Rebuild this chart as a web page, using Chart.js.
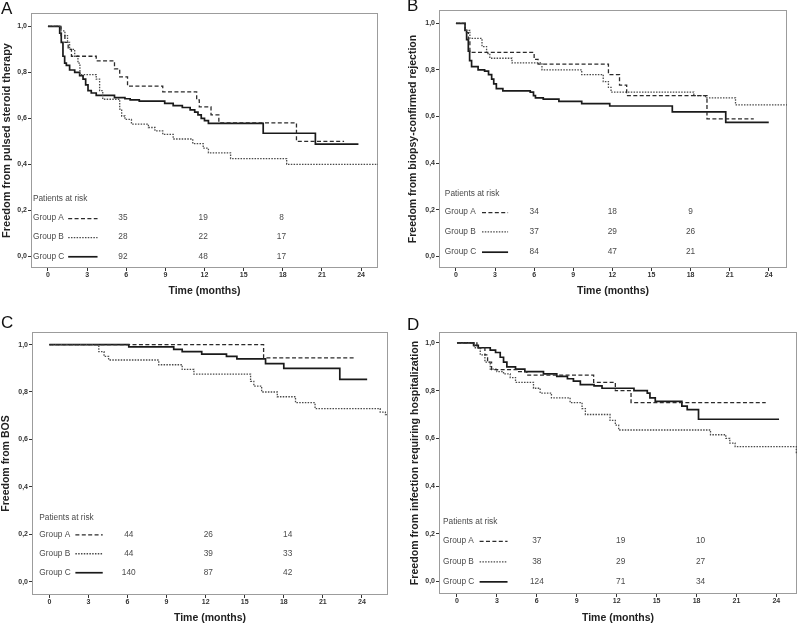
<!DOCTYPE html>
<html>
<head>
<meta charset="utf-8">
<script src="https://cdn.jsdelivr.net/npm/chart.js@4.4.1/dist/chart.umd.min.js"></script>
<style>
  html, body { margin: 0; padding: 0; background: #fff; }
  #wrap { position: relative; width: 800px; height: 625px; overflow: hidden; }
  .panel { position: absolute; }
  .letter { position: absolute; font: 17px "Liberation Sans", Arial, sans-serif; color: #111; line-height: 1; }
</style>
</head>
<body>
<div id="wrap">
  <div class="panel" style="left:0;top:0;width:400px;height:310px"><canvas id="chartA"></canvas></div>
  <div class="panel" style="left:400px;top:0;width:400px;height:310px"><canvas id="chartB"></canvas></div>
  <div class="panel" style="left:0;top:310px;width:400px;height:315px"><canvas id="chartC"></canvas></div>
  <div class="panel" style="left:400px;top:310px;width:400px;height:315px"><canvas id="chartD"></canvas></div>
  <div class="letter" style="left:1px;top:0px">A</div>
  <div class="letter" style="left:407px;top:-3px">B</div>
  <div class="letter" style="left:1px;top:314px">C</div>
  <div class="letter" style="left:407px;top:316px">D</div>
</div>
<script>
const groups = ['Group A', 'Group B', 'Group C'];
const riskHeader = 'Patients at risk';
const xTitle = 'Time (months)';
const xTicks = [0, 3, 6, 9, 12, 15, 18, 21, 24];
const yTicks = [0, 0.2, 0.4, 0.6, 0.8, 1.0];

// A - pulsed steroid therapy
const steroidTimeA = [0, 1.0, 1.3, 1.55, 1.8, 3.7, 5.1, 5.5, 6.1, 8.8, 11.4, 11.6, 12.5, 13.1, 19.05, 22.7];
const steroidSurvA = [1, 0.96, 0.93, 0.90, 0.87, 0.85, 0.815, 0.78, 0.74, 0.715, 0.68, 0.65, 0.615, 0.58, 0.50, 0.50];
const steroidTimeB = [0, 1.0, 1.3, 1.5, 1.66, 2.05, 2.3, 2.45, 3.7, 3.96, 4.2, 5.5, 5.65, 5.9, 6.4, 7.7, 8.2, 8.8, 9.6, 11.1, 11.9, 12.3, 14.0, 18.3, 25.3];
const steroidSurvB = [1, 0.98, 0.96, 0.93, 0.90, 0.87, 0.84, 0.79, 0.77, 0.72, 0.683, 0.64, 0.61, 0.595, 0.575, 0.56, 0.545, 0.53, 0.51, 0.49, 0.47, 0.45, 0.425, 0.40, 0.40];
const steroidTimeC = [0, 0.9, 1.02, 1.15, 1.28, 1.41, 1.66, 2.05, 2.43, 2.69, 2.89, 3.07, 3.32, 3.7, 5.1, 5.9, 6.3, 7.0, 8.95, 9.6, 10.3, 10.9, 11.25, 11.5, 11.75, 12.0, 12.3, 16.5, 20.5, 23.8];
const steroidSurvC = [1, 0.97, 0.93, 0.87, 0.84, 0.83, 0.81, 0.80, 0.785, 0.77, 0.745, 0.72, 0.71, 0.70, 0.69, 0.685, 0.68, 0.675, 0.665, 0.655, 0.647, 0.637, 0.627, 0.615, 0.60, 0.59, 0.578, 0.535, 0.488, 0.488];
const steroidRiskA = [35, 19, 8];
const steroidRiskB = [28, 22, 17];
const steroidRiskC = [92, 48, 17];

// B - biopsy-confirmed rejection
const rejectTimeA = [0, 0.7, 0.95, 1.07, 6.0, 6.3, 11.7, 12.55, 13.1, 19.26, 22.85];
const rejectSurvA = [1, 0.96, 0.93, 0.875, 0.845, 0.825, 0.78, 0.735, 0.69, 0.59, 0.59];
const rejectTimeB = [0, 0.7, 1.07, 2.0, 2.35, 2.6, 4.3, 6.6, 9.65, 11.3, 11.7, 11.9, 18.25, 19.15, 21.45, 25.4];
const rejectSurvB = [1, 0.97, 0.935, 0.90, 0.87, 0.85, 0.83, 0.80, 0.78, 0.75, 0.725, 0.705, 0.69, 0.68, 0.65, 0.65];
const rejectTimeC = [0, 0.7, 0.82, 0.95, 1.05, 1.2, 1.7, 2.2, 2.5, 2.74, 2.9, 3.1, 3.6, 5.7, 5.95, 6.1, 6.7, 7.9, 9.65, 11.8, 16.6, 20.7, 24.0];
const rejectSurvC = [1, 0.97, 0.93, 0.88, 0.84, 0.814, 0.80, 0.795, 0.78, 0.76, 0.74, 0.72, 0.71, 0.705, 0.69, 0.68, 0.675, 0.665, 0.655, 0.645, 0.62, 0.575, 0.575];
const rejectRiskA = [34, 18, 9];
const rejectRiskB = [37, 29, 26];
const rejectRiskC = [84, 47, 21];

// C - BOS
const bosTimeA = [0, 16.45, 23.36];
const bosSurvA = [1, 0.944, 0.944];
const bosTimeB = [0, 3.8, 4.2, 4.55, 8.4, 10.2, 11.1, 15.45, 15.7, 16.3, 17.5, 18.9, 20.4, 25.4, 25.8, 26.0];
const bosSurvB = [1, 0.97, 0.95, 0.935, 0.915, 0.895, 0.875, 0.845, 0.825, 0.80, 0.78, 0.755, 0.73, 0.715, 0.705, 0.705];
const bosTimeC = [0, 6.1, 9.55, 10.2, 11.7, 13.6, 14.4, 16.6, 18.0, 22.3, 24.4];
const bosSurvC = [1, 0.99, 0.98, 0.97, 0.96, 0.95, 0.94, 0.92, 0.90, 0.853, 0.853];
const bosRiskA = [44, 26, 14];
const bosRiskB = [44, 39, 33];
const bosRiskC = [140, 87, 42];

// D - infection requiring hospitalization
const infectTimeA = [0, 1.5, 2.1, 2.3, 2.6, 4.5, 5.25, 10.27, 11.9, 13.08, 23.2];
const infectSurvA = [1, 0.98, 0.95, 0.92, 0.888, 0.88, 0.865, 0.835, 0.80, 0.75, 0.75];
const infectTimeB = [0, 1.3, 1.75, 2.1, 2.5, 3.0, 3.5, 4.0, 4.4, 5.75, 6.25, 7.1, 8.5, 9.4, 9.65, 11.5, 11.9, 12.15, 19.05, 20.2, 20.5, 20.9, 25.5, 25.55];
const infectSurvB = [1, 0.98, 0.95, 0.92, 0.89, 0.88, 0.87, 0.855, 0.835, 0.81, 0.79, 0.77, 0.75, 0.725, 0.70, 0.675, 0.655, 0.635, 0.615, 0.60, 0.58, 0.565, 0.54, 0.54];
const infectTimeC = [0, 1.25, 1.6, 2.5, 2.9, 3.25, 3.5, 3.75, 4.4, 5.1, 6.5, 7.5, 8.3, 8.75, 9.27, 10.3, 10.9, 13.3, 14.3, 14.5, 14.9, 16.9, 17.3, 18.15, 24.2];
const infectSurvC = [1, 0.99, 0.98, 0.97, 0.96, 0.94, 0.92, 0.90, 0.89, 0.88, 0.87, 0.86, 0.85, 0.84, 0.825, 0.82, 0.81, 0.80, 0.79, 0.77, 0.755, 0.735, 0.72, 0.68, 0.68];
const infectRiskA = [37, 19, 10];
const infectRiskB = [38, 29, 27];
const infectRiskC = [124, 71, 34];

// line look per group: dashed, dotted, solid
const lineColors = ['#2b2b2b', '#4a4a4a', '#1a1a1a'];
const lineWidths = [1.3, 1.3, 1.7];
const lineDashes = [[4, 2.4], [1.5, 1.3], []];
const fontFamily = '"Liberation Sans", Arial, sans-serif';

const framePlugin = {
  id: 'frame',
  beforeDatasetsDraw(chart) {
    const { ctx, chartArea: a } = chart;
    ctx.save();
    ctx.strokeStyle = '#9c9c9c';
    ctx.lineWidth = 1;
    ctx.strokeRect(a.left + 0.5, a.top + 0.5, a.width - 1, a.height - 1);
    ctx.restore();
  }
};

const riskPlugin = {
  id: 'riskTable',
  afterDatasetsDraw(chart, args, o) {
    const { ctx } = chart;
    const x = chart.scales.x, y = chart.scales.y;
    ctx.save();
    ctx.font = '8.3px ' + fontFamily;
    ctx.fillStyle = '#4a4a4a';
    ctx.textBaseline = 'middle';
    ctx.textAlign = 'left';
    ctx.fillText(riskHeader, x.getPixelForValue(o.labelX), y.getPixelForValue(o.headerY));
    groups.forEach((g, i) => {
      const py = y.getPixelForValue(o.rowY[i]);
      ctx.textAlign = 'left';
      ctx.fillText(g, x.getPixelForValue(o.labelX), py);
      ctx.beginPath();
      ctx.setLineDash(lineDashes[i]);
      ctx.strokeStyle = lineColors[i];
      ctx.lineWidth = lineWidths[i];
      ctx.moveTo(x.getPixelForValue(o.lineX[0]), py + 0.5);
      ctx.lineTo(x.getPixelForValue(o.lineX[1]), py + 0.5);
      ctx.stroke();
      ctx.textAlign = 'center';
      o.counts[i].forEach((n, k) => ctx.fillText(String(n), x.getPixelForValue(o.numX[k]), py));
    });
    ctx.restore();
  }
};

function makePanel(id, yTitle, times, survs, counts, g) {
  const datasets = groups.map((name, i) => ({
    label: name,
    data: times[i].map((t, k) => ({ x: t, y: survs[i][k] })),
    stepped: true,
    borderColor: lineColors[i],
    borderWidth: lineWidths[i],
    borderDash: lineDashes[i],
    pointRadius: 0,
    fill: false
  }));

  new Chart(document.getElementById(id), {
    type: 'line',
    data: { datasets: datasets },
    options: {
      responsive: true,
      maintainAspectRatio: false,
      animation: false,
      layout: { padding: g.pad },
      plugins: {
        legend: { display: false },
        tooltip: { enabled: false },
        riskTable: {
          counts: counts,
          labelX: g.labelX, lineX: g.lineX, numX: g.numX,
          headerY: g.headerY, rowY: g.rowY
        }
      },
      scales: {
        x: {
          type: 'linear',
          min: g.xMin,
          max: g.xMax,
          afterBuildTicks: s => { s.ticks = xTicks.map(v => ({ value: v })); },
          afterFit: s => { s.height = g.xAxisH; },
          border: { display: false },
          grid: { drawOnChartArea: false, drawTicks: true, tickLength: 3, color: '#333' },
          ticks: {
            padding: 0,
            color: '#333',
            font: { family: fontFamily, size: 7, weight: 'bold' },
            maxRotation: 0,
            callback: v => String(v)
          },
          title: {
            display: true,
            text: xTitle,
            color: '#222',
            font: { family: fontFamily, size: 10.5, weight: 'bold' },
            padding: { top: 0, bottom: g.xTitlePad }
          }
        },
        y: {
          type: 'linear',
          min: g.yMin,
          max: g.yMax,
          afterBuildTicks: s => { s.ticks = yTicks.map(v => ({ value: v })); },
          afterFit: s => { s.width = g.yAxisW; },
          border: { display: false },
          grid: { drawOnChartArea: false, drawTicks: true, tickLength: 3, color: '#333' },
          ticks: {
            padding: 1,
            color: '#333',
            font: { family: fontFamily, size: 7, weight: 'bold' },
            callback: v => v.toFixed(1).replace('.', ',')
          },
          title: {
            display: true,
            text: yTitle,
            color: '#222',
            font: { family: fontFamily, size: g.yTitleSize, weight: 'bold' },
            padding: { top: g.yTitlePad, bottom: 0 }
          }
        }
      }
    },
    plugins: [framePlugin, riskPlugin]
  });
}

makePanel('chartA', 'Freedom from pulsed steroid therapy',
  [steroidTimeA, steroidTimeB, steroidTimeC],
  [steroidSurvA, steroidSurvB, steroidSurvC],
  [steroidRiskA, steroidRiskB, steroidRiskC],
  { pad: { top: 13, right: 22, left: 0, bottom: 0 }, yAxisW: 31, xAxisH: 42,
    xMin: -1.3, xMax: 25.3, yMin: -0.051, yMax: 1.058,
    yTitleSize: 11, yTitlePad: 0.4, xTitlePad: 12.7,
    labelX: -1.15, lineX: [1.55, 3.8], numX: [5.75, 11.9, 17.9], headerY: 0.25, rowY: [0.166, 0.083, 0.0] });

makePanel('chartB', 'Freedom from biopsy-confirmed rejection',
  [rejectTimeA, rejectTimeB, rejectTimeC],
  [rejectSurvA, rejectSurvB, rejectSurvC],
  [rejectRiskA, rejectRiskB, rejectRiskC],
  { pad: { top: 10, right: 13, left: 0, bottom: 0 }, yAxisW: 39, xAxisH: 42,
    xMin: -1.3, xMax: 25.4, yMin: -0.05, yMax: 1.057,
    yTitleSize: 10.5, yTitlePad: 6.7, xTitlePad: 12.7,
    labelX: -0.85, lineX: [2.0, 4.0], numX: [6.0, 12.0, 18.0], headerY: 0.27, rowY: [0.19, 0.107, 0.02] });

makePanel('chartC', 'Freedom from BOS',
  [bosTimeA, bosTimeB, bosTimeC],
  [bosSurvA, bosSurvB, bosSurvC],
  [bosRiskA, bosRiskB, bosRiskC],
  { pad: { top: 22, right: 12, left: 0, bottom: 0 }, yAxisW: 32, xAxisH: 30,
    xMin: -1.33, xMax: 26.0, yMin: -0.056, yMax: 1.053,
    yTitleSize: 10.5, yTitlePad: 0, xTitlePad: 0.7,
    labelX: -0.77, lineX: [2.0, 4.1], numX: [6.1, 12.2, 18.3], headerY: 0.27, rowY: [0.20, 0.12, 0.04] });

makePanel('chartD', 'Freedom from infection requiring hospitalization',
  [infectTimeA, infectTimeB, infectTimeC],
  [infectSurvA, infectSurvB, infectSurvC],
  [infectRiskA, infectRiskB, infectRiskC],
  { pad: { top: 22, right: 3, left: 0, bottom: 0 }, yAxisW: 39, xAxisH: 31,
    xMin: -1.35, xMax: 25.55, yMin: -0.053, yMax: 1.046,
    yTitleSize: 10.6, yTitlePad: 8.6, xTitlePad: 0.7,
    labelX: -1.05, lineX: [1.7, 3.8], numX: [6.0, 12.3, 18.3], headerY: 0.25, rowY: [0.17, 0.084, 0.0] });
</script>
</body>
</html>
